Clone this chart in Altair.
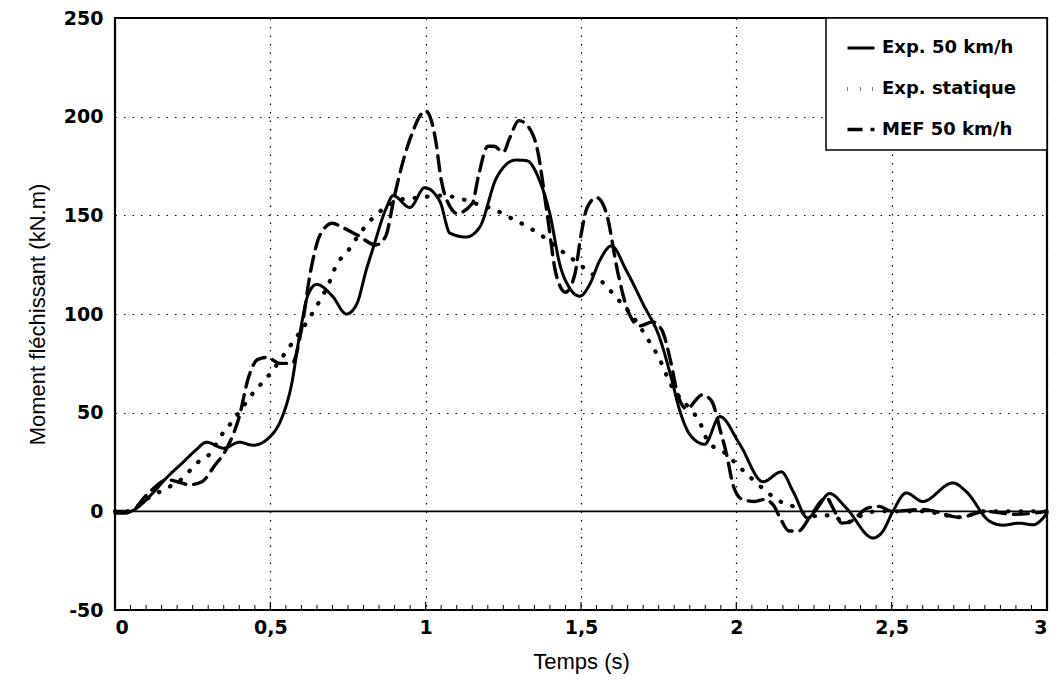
import altair as alt
import pandas as pd

series_names = ["Exp. 50 km/h", "Exp. statique", "MEF 50 km/h"]

exp50_t = [0.0, 0.03, 0.064, 0.12, 0.166, 0.22, 0.26, 0.295, 0.35, 0.40, 0.445, 0.5, 0.536,
           0.568, 0.595, 0.622, 0.649, 0.70, 0.745, 0.778, 0.81, 0.83, 0.874, 0.895, 0.949,
           0.997, 1.046, 1.078, 1.13, 1.174, 1.228, 1.29, 1.325, 1.367, 1.40, 1.432, 1.464,
           1.496, 1.528, 1.56, 1.598, 1.646, 1.70, 1.753, 1.79, 1.818, 1.85, 1.898, 1.947,
           2.011, 2.086, 2.145, 2.183, 2.23, 2.258, 2.30, 2.354, 2.44, 2.472, 2.504, 2.547,
           2.60, 2.697, 2.74, 2.815, 2.858, 2.91, 2.955, 3.0]
exp50_v = [-1, -1, 1, 9, 17, 25, 31, 35, 32, 35, 33.5, 38, 47,
           64, 90, 110, 115, 109, 100, 105, 123, 133, 154, 160, 154,
           164, 157, 141, 139, 144, 169, 178, 177.7, 167.5, 150.6, 125, 113,
           109, 115, 127, 134.5, 122, 105, 88, 68, 51, 39, 34, 48,
           34, 15, 20, 10, -3.4, 1, 9, 1.7, -13.5, -10, 0, 9.3,
           5, 14.4, 10, -5, -7, -6, -6.8, -1]

stat_t = [0.0, 0.05, 0.08, 0.11, 0.17, 0.22, 0.26, 0.31, 0.34, 0.38, 0.45, 0.49, 0.56,
          0.63, 0.66, 0.69, 0.71, 0.75, 0.78, 0.82, 0.87, 0.92, 0.98, 1.05, 1.1, 1.15,
          1.22, 1.27, 1.33, 1.38, 1.42, 1.48, 1.52, 1.57, 1.61, 1.67, 1.72, 1.75, 1.79,
          1.85, 1.88, 1.91, 1.96, 2.0, 2.04, 2.09, 2.13, 2.19, 2.24, 2.31, 2.35, 2.39,
          2.45, 2.6, 2.72, 2.8, 3.0]
stat_v = [0, 0, 3.5, 7, 12, 17, 24, 30, 38, 46, 61, 68, 83,
          99, 107, 116, 124, 132, 139, 147, 154, 158, 159, 160, 159, 156.5,
          153, 149, 144, 139, 134, 127, 122, 116, 109, 98, 86, 78, 64,
          52, 46, 35, 30, 24, 18, 11, 6, 2, -2.5, -2, -6, -3,
          0, 0, -3, 0, 0]

mef_t = [0.0, 0.05, 0.1, 0.17, 0.24, 0.28, 0.32, 0.36, 0.4, 0.43, 0.46, 0.49, 0.53, 0.57,
         0.6, 0.63, 0.66, 0.7, 0.73, 0.78, 0.84, 0.87, 0.9, 0.93, 0.96, 0.98, 1.0, 1.03,
         1.05, 1.08, 1.1, 1.15, 1.17, 1.2, 1.22, 1.25, 1.27, 1.3, 1.33, 1.36, 1.39, 1.42,
         1.45, 1.48, 1.5, 1.52, 1.55, 1.58, 1.62, 1.65, 1.69, 1.73, 1.76, 1.79, 1.81, 1.84,
         1.89, 1.92, 1.95, 1.97, 1.99, 2.02, 2.06, 2.09, 2.12, 2.14, 2.17, 2.2, 2.24, 2.29,
         2.31, 2.34, 2.37, 2.42, 2.46, 2.5, 2.6, 2.72, 2.8, 2.9, 3.0]
mef_v = [0, 0, 8, 16, 13.5, 15, 23, 32, 48, 68, 77, 78, 75, 75,
         92, 122, 140, 146, 144, 140, 135, 139, 160, 179, 193, 200, 203, 190,
         168, 154, 151, 156, 170, 185, 185, 182, 189, 198, 195, 183, 152, 120,
         111, 120, 140, 154, 159, 152, 120, 102, 94, 96, 92, 75, 60, 52,
         59, 56, 40, 28, 13, 6, 5, 6, 3, -3, -10, -10, -2, 7,
         2, -6, -5, 1.5, 2.5, 0, 1, -3, 0, -1.5, 0]

x_ticks = [0, 0.5, 1, 1.5, 2, 2.5, 3]
y_ticks = [-50, 0, 50, 100, 150, 200, 250]
minor_ticks = [round(i * 0.05, 2) for i in range(1, 60) if i % 10 != 0]
major_ticks = [0.5, 1, 1.5, 2, 2.5]

rows = []
for name, ts, vs in [(series_names[0], exp50_t, exp50_v),
                     (series_names[1], stat_t, stat_v),
                     (series_names[2], mef_t, mef_v)]:
    for i, (t, v) in enumerate(zip(ts, vs)):
        rows.append({"serie": name, "t": t, "m": v, "i": i})
df = pd.DataFrame(rows)

W, H = 932, 592
BOLD = "DejaVu Sans"
NARROW = "Liberation Sans Narrow, Arial Narrow, Liberation Sans"

xscale = alt.Scale(domain=[0, 3], nice=False, zero=False)
yscale = alt.Scale(domain=[-50, 250], nice=False, zero=False)

lines = alt.Chart(df).mark_line(color="black", strokeCap="round",
                                interpolate="monotone").encode(
    x=alt.X("t:Q", scale=xscale,
            axis=alt.Axis(values=x_ticks, title="Temps (s)",
                          labelExpr="replace(format(datum.value, '~g'), '.', ',')")),
    y=alt.Y("m:Q", scale=yscale,
            axis=alt.Axis(values=y_ticks, title="Moment fléchissant (kN.m)",
                          labelExpr="'' + datum.value")),
    order="i:Q",
    strokeWidth=alt.StrokeWidth(
        "serie:N",
        scale=alt.Scale(type="ordinal", domain=series_names, range=[3, 4.2, 3.4]),
        legend=None),
    strokeDash=alt.StrokeDash(
        "serie:N",
        scale=alt.Scale(domain=series_names, range=[[1, 0], [0.5, 12], [15, 8]]),
        legend=alt.Legend(orient="none", legendX=730, legendY=15, title=None,
                          symbolType="stroke", symbolSize=729, symbolStrokeWidth=3,
                          symbolStrokeColor="black", labelFont=BOLD, labelFontWeight="bold",
                          labelFontSize=18, labelColor="black", labelOffset=5,
                          rowPadding=16, padding=0)),
)

zero_df = pd.DataFrame({"z": [0]})
zero_line = alt.Chart(zero_df).mark_rule(color="black", strokeWidth=1.8).encode(
    y=alt.Y("z:Q", scale=yscale))

minor_df = pd.DataFrame({"t": minor_ticks})
minor = alt.Chart(minor_df).mark_rule(color="black", strokeWidth=1).encode(
    x=alt.X("t:Q", scale=xscale), y=alt.value(H), y2=alt.value(H - 5))
major_df = pd.DataFrame({"t": major_ticks})
major = alt.Chart(major_df).mark_rule(color="black", strokeWidth=1.2).encode(
    x=alt.X("t:Q", scale=xscale), y=alt.value(H), y2=alt.value(H - 8))

box = alt.Chart(zero_df).mark_rect(fill="white", stroke="black", strokeWidth=1.5).encode(
    x=alt.value(711), x2=alt.value(W), y=alt.value(0), y2=alt.value(132))

chart = alt.layer(zero_line, minor, major, box, lines).properties(
    width=W, height=H,
    autosize=alt.AutoSizeParams(type="none"),
    padding={"left": 107, "top": 10, "right": 3, "bottom": 66},
    background="white",
).configure_view(stroke="black", strokeWidth=2.2).configure_axis(
    domain=False, ticks=False, grid=True, gridColor="black", gridDash=[1.5, 7],
    gridWidth=1.2, gridOpacity=1,
    labelFont=BOLD, labelFontWeight="bold", labelFontSize=19, labelColor="black",
    titleFont=NARROW, titleFontWeight="normal", titleFontSize=22, titleColor="black",
).configure_axisX(labelPadding=8, titlePadding=14).configure_axisY(
    labelPadding=12, titlePadding=14)

chart.save("out.html", embed_options={"renderer": "svg", "actions": False})
